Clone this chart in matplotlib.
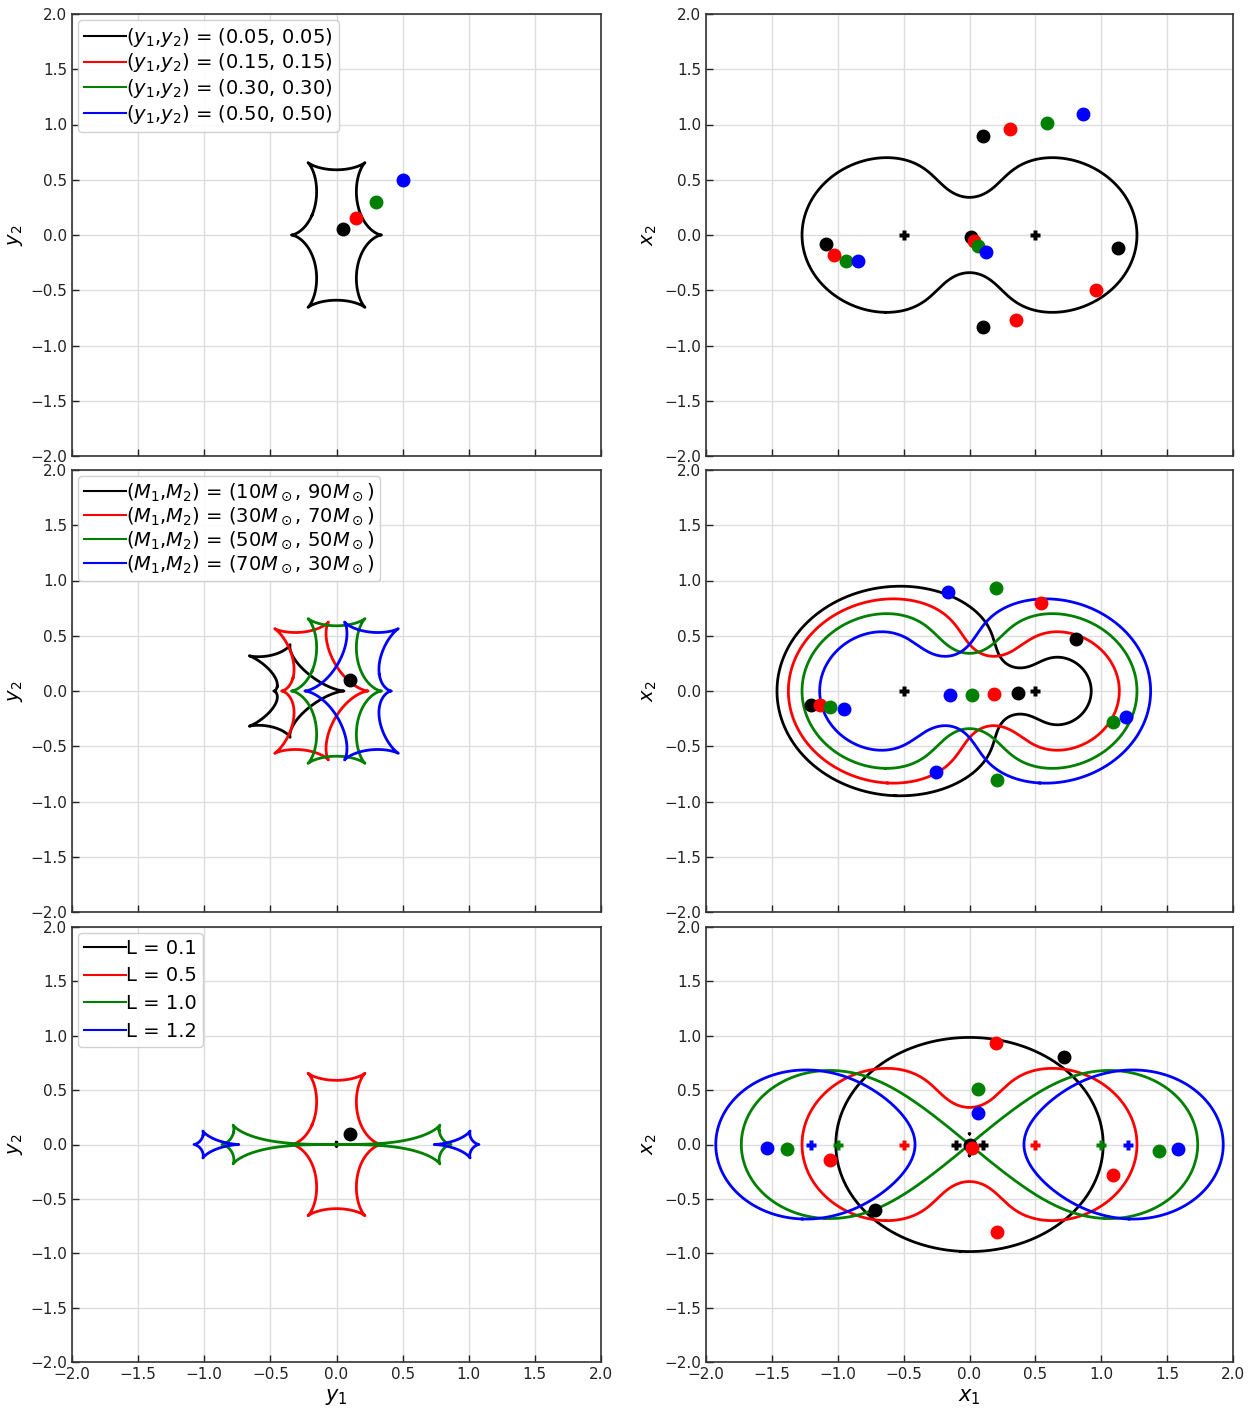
import numpy as np
import matplotlib
matplotlib.use("Agg")
import matplotlib.pyplot as plt
from numpy.polynomial import polynomial as P
import contourpy

# Параметры линз и источников
colors = ["k", "r", "g", "b"]

# ряд 1: равные массы, линзы в +-0.5, разные источники
row1_sources = [(0.05, 0.05), (0.15, 0.15), (0.30, 0.30), (0.50, 0.50)]
row1_masses = [0.5, 0.5]
row1_pos = [0.5, -0.5]

# ряд 2: разные массы (в солнечных массах), источник (0.1, 0.1)
row2_M1 = [10, 30, 50, 70]
row2_M2 = [90, 70, 50, 30]
row2_pos = [0.5, -0.5]
row2_source = (0.1, 0.1)

# ряд 3: разное расстояние L, равные массы, источник (0.1, 0.1)
row3_L = [0.1, 0.5, 1.0, 1.2]
row3_masses = [0.5, 0.5]
row3_source = (0.1, 0.1)


def lens_map(z, masses, pos):
    zz = np.conj(z)
    out = np.array(z, dtype=complex)
    for m, p in zip(masses, pos):
        out = out - m / (zz - p)
    return out


def critical_curves(masses, pos):
    g = np.linspace(-2.6, 2.6, 2081)
    X, Y = np.meshgrid(g, g)
    Z = X + 1j * Y
    with np.errstate(all="ignore"):
        s = np.zeros_like(Z)
        for m, p in zip(masses, pos):
            s = s + m / (Z - p) ** 2
        val = np.abs(s)
    val[~np.isfinite(val)] = 1e6
    gen = contourpy.contour_generator(X, Y, val, line_type="Separate")
    lines = gen.lines(1.0)
    return [ln[:, 0] + 1j * ln[:, 1] for ln in lines]


def images(src, masses, pos):
    zeta = complex(src[0], src[1])
    zc = np.conj(zeta)
    D = np.array([1.0 + 0j])
    for p in pos:
        D = P.polymul(D, [-p, 1])
    N = np.array([0j])
    for j, m in enumerate(masses):
        t = np.array([m + 0j])
        for k, p2 in enumerate(pos):
            if k != j:
                t = P.polymul(t, [-p2, 1])
        N = P.polyadd(N, t)
    A = [P.polyadd(P.polymul([zc - p], D), N) for p in pos]
    poly = P.polymul([zeta, -1], P.polymul(A[0], A[1]))
    poly = P.polyadd(poly, P.polymul(masses[0] * D, A[1]))
    poly = P.polyadd(poly, P.polymul(masses[1] * D, A[0]))
    roots = P.polyroots(poly)
    good = [r for r in roots if abs(lens_map(r, masses, pos) - zeta) < 1e-5]
    return np.array(good)


fig = plt.figure(figsize=(12.55, 14.08), dpi=100)
W, H = 1255, 1408
lefts = [72, 706]
widths = [529, 527]
tops = [14, 470, 927]
bottoms = [456, 912, 1362]

axes = []
for r in range(3):
    row = []
    for c in range(2):
        ax = fig.add_axes([lefts[c] / W, 1 - bottoms[r] / H,
                           widths[c] / W, (bottoms[r] - tops[r]) / H])
        ax.set_xlim(-2, 2)
        ax.set_ylim(-2, 2)
        ax.set_xticks(np.arange(-2, 2.01, 0.5))
        ax.set_yticks(np.arange(-2, 2.01, 0.5))
        ax.grid(True, color="#dddddd", linewidth=1)
        ax.set_axisbelow(True)
        ax.tick_params(direction="in", length=5, width=1, labelsize=11, colors="#222222")
        for sp in ax.spines.values():
            sp.set_color("#333333")
            sp.set_linewidth(1.2)
        if r < 2:
            ax.tick_params(labelbottom=False)
        ax.set_ylabel("$y_2$" if c == 0 else "$x_2$", fontsize=14, labelpad=4)
        row.append(ax)
    axes.append(row)
axes[2][0].set_xlabel("$y_1$", fontsize=15)
axes[2][1].set_xlabel("$x_1$", fontsize=15)

lw = 2.0
ms = 9

# ряд 1
axl, axr = axes[0]
crit = critical_curves(row1_masses, row1_pos)
for cc in crit:
    axr.plot(cc.real, cc.imag, color="k", lw=lw)
    ca = lens_map(cc, row1_masses, row1_pos)
    axl.plot(ca.real, ca.imag, color="k", lw=lw)
for p in row1_pos:
    axr.plot(p, 0, marker="P", color="k", ms=7, mec="none", zorder=4)
for col, s in zip(colors, row1_sources):
    axl.plot([], [], color=col, lw=1.5, label=f"($y_1$,$y_2$) = ({s[0]:.2f}, {s[1]:.2f})")
    axl.plot(s[0], s[1], "o", color=col, ms=ms, zorder=5)
    im = images(s, row1_masses, row1_pos)
    axr.plot(im.real, im.imag, "o", color=col, ms=ms, ls="none", zorder=5)

# ряд 2
axl, axr = axes[1]
for col, m1, m2 in zip(colors, row2_M1, row2_M2):
    masses = [m1 / (m1 + m2), m2 / (m1 + m2)]
    crit = critical_curves(masses, row2_pos)
    for cc in crit:
        axr.plot(cc.real, cc.imag, color=col, lw=lw)
        ca = lens_map(cc, masses, row2_pos)
        axl.plot(ca.real, ca.imag, color=col, lw=lw)
    axl.plot([], [], color=col, lw=1.5,
             label=f"($M_1$,$M_2$) = ({m1}$M_\\odot$, {m2}$M_\\odot$)")
    im = images(row2_source, masses, row2_pos)
    axr.plot(im.real, im.imag, "o", color=col, ms=ms, ls="none", zorder=5)
for p in row2_pos:
    axr.plot(p, 0, marker="P", color="k", ms=7, mec="none", zorder=4)
axl.plot(row2_source[0], row2_source[1], "o", color="k", ms=ms, zorder=5)

# ряд 3
axl, axr = axes[2]
for col, L in zip(colors, row3_L):
    pos = [L, -L]
    crit = critical_curves(row3_masses, pos)
    for cc in crit:
        axr.plot(cc.real, cc.imag, color=col, lw=lw)
        ca = lens_map(cc, row3_masses, pos)
        axl.plot(ca.real, ca.imag, color=col, lw=lw)
    axl.plot([], [], color=col, lw=1.5, label=f"L = {L}")
    for p in pos:
        axr.plot(p, 0, marker="P", color=col, ms=7, mec="none", zorder=4)
    im = images(row3_source, row3_masses, pos)
    axr.plot(im.real, im.imag, "o", color=col, ms=ms, ls="none", zorder=5)
axl.plot(row3_source[0], row3_source[1], "o", color="k", ms=ms, zorder=5)

spacings = [0.14, 0.12, 0.45]
for r in range(3):
    axes[r][0].legend(loc="upper left", fontsize=14, handlelength=2.2,
                      handletextpad=0.0, borderpad=0.3, labelspacing=spacings[r],
                      borderaxespad=0.3, framealpha=0.9)
    for ax in axes[r]:
        ax.set_xlim(-2, 2)
        ax.set_ylim(-2, 2)

fig.savefig("out.png", dpi=100)
